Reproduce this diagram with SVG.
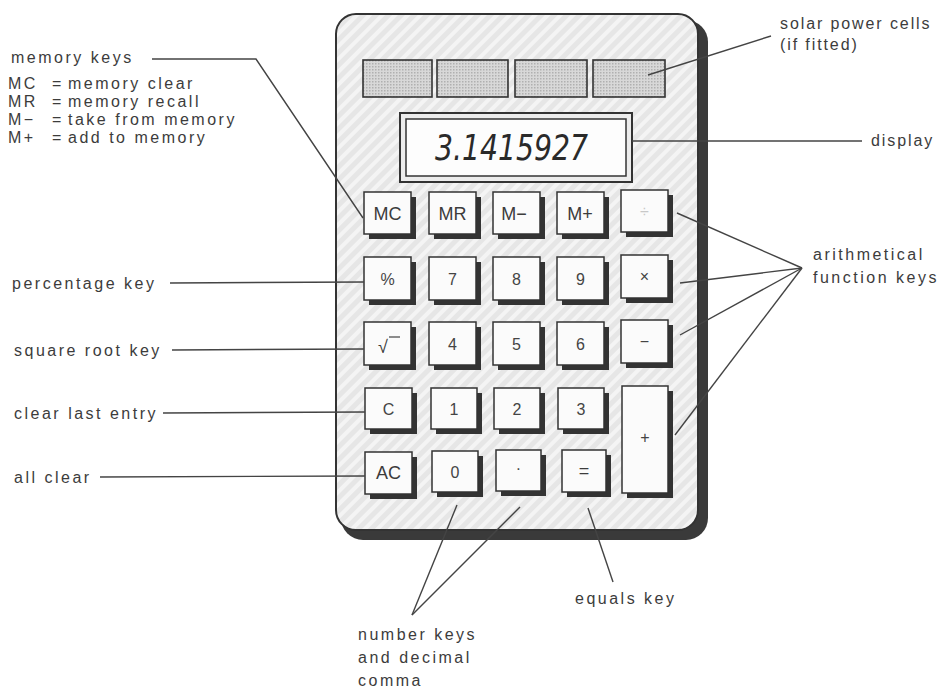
<svg xmlns="http://www.w3.org/2000/svg" width="941" height="689" viewBox="0 0 941 689">
  <defs>
    <!-- faint diagonal sheen on the calculator casing -->
    <pattern id="casing" width="9" height="9" patternUnits="userSpaceOnUse" patternTransform="rotate(45)">
      <rect width="9" height="9" fill="#e6e6e6"/>
      <rect width="4" height="9" fill="#f4f4f4"/>
    </pattern>
    <!-- stippled solar cell surface -->
    <pattern id="cell" width="3" height="3" patternUnits="userSpaceOnUse">
      <rect width="3" height="3" fill="#d8d8d8"/>
      <rect width="1.5" height="1.5" fill="#b0b0b0"/>
    </pattern>
    <style>
      .lbl { font-family: "Liberation Sans", Arial, sans-serif; font-size: 16px; letter-spacing: 2.5px; fill: #3c3c3c; }
      .tight { letter-spacing: 1.9px; }
      .lead { stroke: #444; stroke-width: 1.4; fill: none; }
      .shadow { fill: #333; }
      .key { fill: #fbfbfb; stroke: #333; stroke-width: 1.5; }
      .kt { font-family: "Liberation Sans", Arial, sans-serif; font-size: 18px; fill: #3c3c3c; text-anchor: middle; }
      .kn { font-family: "Liberation Sans", Arial, sans-serif; font-size: 16px; fill: #444; text-anchor: middle; }
      .cellbox { fill: url(#cell); stroke: #333; stroke-width: 1.6; }
    </style>
  </defs>

  <rect width="941" height="689" fill="#ffffff"/>

  <!-- calculator body -->
  <g id="body">
    <rect x="341" y="20" width="367" height="520" rx="22" fill="#3a3a3a"/>
    <rect x="336" y="14" width="362" height="516" rx="20" fill="url(#casing)" stroke="#333" stroke-width="2"/>
  </g>

  <!-- solar panel -->
  <g id="solar-cells">
    <rect class="cellbox" x="363" y="60" width="69" height="37"/>
    <rect class="cellbox" x="437" y="60" width="71" height="37"/>
    <rect class="cellbox" x="515" y="60" width="72" height="37"/>
    <rect class="cellbox" x="593" y="60" width="72" height="37"/>
  </g>

  <!-- display window -->
  <g id="display">
    <rect x="400" y="113" width="232" height="69" fill="#ececec" stroke="#333" stroke-width="2"/>
    <rect x="406" y="119" width="220" height="57" fill="#fdfdfd" stroke="#333" stroke-width="1.5"/>
    <text x="435" y="160" font-family="DejaVu Sans, Liberation Sans, sans-serif" font-weight="200" font-size="36" font-style="italic" fill="#2a2a2a" textLength="153" lengthAdjust="spacingAndGlyphs">3.1415927</text>
  </g>

  <!-- keypad -->
  <g id="key-mc"><rect class="shadow" x="369" y="197" width="47" height="42"/><rect class="key" x="364" y="192" width="47" height="42"/><text class="kt" x="387.5" y="220">MC</text></g>
  <g id="key-mr"><rect class="shadow" x="434" y="197" width="47" height="42"/><rect class="key" x="429" y="192" width="47" height="42"/><text class="kt" x="452.5" y="220">MR</text></g>
  <g id="key-mminus"><rect class="shadow" x="498" y="197" width="47" height="42"/><rect class="key" x="493" y="192" width="47" height="42"/><text class="kt" x="514" y="220">M−</text></g>
  <g id="key-mplus"><rect class="shadow" x="562" y="197" width="47" height="42"/><rect class="key" x="557" y="192" width="47" height="42"/><text class="kt" x="580" y="220">M+</text></g>
  <g id="key-divide"><rect class="shadow" x="626" y="195" width="47" height="42"/><rect class="key" x="621" y="190" width="47" height="42"/><text class="kn" x="644.5" y="217" style="fill:#c8c8c8">÷</text></g>

  <g id="key-percent"><rect class="shadow" x="369" y="262" width="47" height="43"/><rect class="key" x="364" y="257" width="47" height="43"/><text class="kn" x="387.5" y="285">%</text></g>
  <g id="key-7"><rect class="shadow" x="434" y="262" width="47" height="43"/><rect class="key" x="429" y="257" width="47" height="43"/><text class="kn" x="452.5" y="285">7</text></g>
  <g id="key-8"><rect class="shadow" x="498" y="262" width="47" height="43"/><rect class="key" x="493" y="257" width="47" height="43"/><text class="kn" x="516.5" y="285">8</text></g>
  <g id="key-9"><rect class="shadow" x="562" y="262" width="47" height="43"/><rect class="key" x="557" y="257" width="47" height="43"/><text class="kn" x="580.5" y="285">9</text></g>
  <g id="key-times"><rect class="shadow" x="626" y="260" width="47" height="43"/><rect class="key" x="621" y="255" width="47" height="43"/><text class="kn" x="644.5" y="282">×</text></g>

  <g id="key-sqrt"><rect class="shadow" x="369" y="327" width="47" height="43"/><rect class="key" x="364" y="322" width="47" height="43"/><text class="kt" x="383" y="353">√</text><line x1="389" y1="337" x2="400" y2="337" stroke="#444" stroke-width="1.2"/></g>
  <g id="key-4"><rect class="shadow" x="434" y="327" width="47" height="43"/><rect class="key" x="429" y="322" width="47" height="43"/><text class="kn" x="452.5" y="350">4</text></g>
  <g id="key-5"><rect class="shadow" x="498" y="327" width="47" height="43"/><rect class="key" x="493" y="322" width="47" height="43"/><text class="kn" x="516.5" y="350">5</text></g>
  <g id="key-6"><rect class="shadow" x="562" y="327" width="47" height="43"/><rect class="key" x="557" y="322" width="47" height="43"/><text class="kn" x="580.5" y="350">6</text></g>
  <g id="key-minus"><rect class="shadow" x="626" y="325" width="47" height="43"/><rect class="key" x="621" y="320" width="47" height="43"/><text class="kn" x="644.5" y="347">−</text></g>

  <g id="key-c"><rect class="shadow" x="370" y="393" width="47" height="41"/><rect class="key" x="365" y="388" width="47" height="41"/><text class="kn" x="388.5" y="415">C</text></g>
  <g id="key-1"><rect class="shadow" x="436" y="393" width="46" height="41"/><rect class="key" x="431" y="388" width="46" height="41"/><text class="kn" x="454" y="415">1</text></g>
  <g id="key-2"><rect class="shadow" x="499" y="393" width="46" height="41"/><rect class="key" x="494" y="388" width="46" height="41"/><text class="kn" x="517" y="415">2</text></g>
  <g id="key-3"><rect class="shadow" x="563" y="393" width="46" height="41"/><rect class="key" x="558" y="388" width="46" height="41"/><text class="kn" x="581" y="415">3</text></g>
  <g id="key-plus"><rect class="shadow" x="627" y="391" width="46" height="107"/><rect class="key" x="622" y="386" width="46" height="107"/><text class="kn" x="645" y="443">+</text></g>

  <g id="key-ac"><rect class="shadow" x="370" y="457" width="47" height="42"/><rect class="key" x="365" y="452" width="47" height="42"/><text class="kt" x="388.5" y="479">AC</text></g>
  <g id="key-0"><rect class="shadow" x="437" y="456" width="46" height="41"/><rect class="key" x="432" y="451" width="46" height="41"/><text class="kn" x="455" y="478">0</text></g>
  <g id="key-point"><rect class="shadow" x="501" y="455" width="45" height="41"/><rect class="key" x="496" y="450" width="45" height="41"/><text class="kn" x="518.5" y="474">·</text></g>
  <g id="key-equals"><rect class="shadow" x="567" y="455" width="44" height="42"/><rect class="key" x="562" y="450" width="44" height="42"/><text class="kt" x="584" y="477">=</text></g>

  <!-- labels -->
  <g id="label-memory">
    <text class="lbl" x="11" y="63">memory keys</text>
    <text class="lbl" y="89"><tspan x="8">MC</tspan><tspan x="52">=</tspan><tspan x="68">memory clear</tspan></text>
    <text class="lbl" y="107"><tspan x="8">MR</tspan><tspan x="52">=</tspan><tspan x="68">memory recall</tspan></text>
    <text class="lbl" y="125"><tspan x="8">M−</tspan><tspan x="52">=</tspan><tspan x="68">take from memory</tspan></text>
    <text class="lbl" y="143"><tspan x="8">M+</tspan><tspan x="52">=</tspan><tspan x="68">add to memory</tspan></text>
  </g>
  <g id="label-percentage"><text class="lbl" x="12" y="289">percentage key</text></g>
  <g id="label-sqrt"><text class="lbl" x="14" y="356">square root key</text></g>
  <g id="label-clear-entry"><text class="lbl" x="14" y="419">clear last entry</text></g>
  <g id="label-all-clear"><text class="lbl" x="14" y="483">all clear</text></g>
  <g id="label-solar">
    <text class="lbl tight" x="780" y="29">solar power cells</text>
    <text class="lbl tight" x="780" y="50">(if fitted)</text>
  </g>
  <g id="label-display"><text class="lbl tight" x="871" y="146">display</text></g>
  <g id="label-arith">
    <text class="lbl" x="813" y="260">arithmetical</text>
    <text class="lbl" x="813" y="283">function keys</text>
  </g>
  <g id="label-equals"><text class="lbl" x="575" y="604">equals key</text></g>
  <g id="label-number">
    <text class="lbl" x="358" y="640">number keys</text>
    <text class="lbl" x="358" y="663">and decimal</text>
    <text class="lbl" x="358" y="686">comma</text>
  </g>

  <!-- leader lines -->
  <g id="connectors">
    <polyline class="lead" points="152,59 256,59 363,218"/>
    <line class="lead" x1="170" y1="283" x2="364" y2="282"/>
    <line class="lead" x1="172" y1="350" x2="364" y2="349"/>
    <line class="lead" x1="163" y1="413" x2="365" y2="412"/>
    <line class="lead" x1="100" y1="477" x2="365" y2="476"/>
    <line class="lead" x1="771" y1="36" x2="648" y2="75"/>
    <line class="lead" x1="632" y1="141" x2="862" y2="141"/>
    <line class="lead" x1="802" y1="268" x2="677" y2="213"/>
    <line class="lead" x1="802" y1="268" x2="680" y2="283"/>
    <line class="lead" x1="802" y1="268" x2="680" y2="335"/>
    <line class="lead" x1="802" y1="268" x2="675" y2="435"/>
    <line class="lead" x1="588" y1="508" x2="613" y2="582"/>
    <line class="lead" x1="412" y1="615" x2="457" y2="505"/>
    <line class="lead" x1="412" y1="615" x2="520" y2="507"/>
  </g>
</svg>
